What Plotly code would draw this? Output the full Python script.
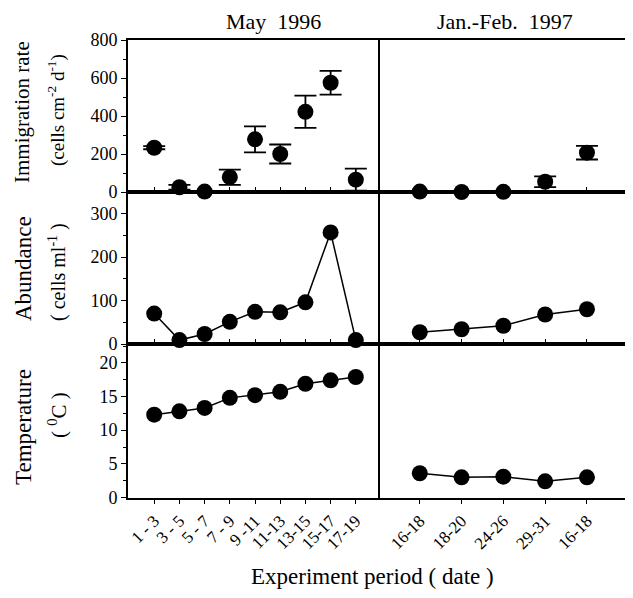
import plotly.graph_objects as go

# ---- data ----
may_labels = ["1 - 3", "3 - 5", "5 - 7", "7 - 9", "9 -11", "11-13", "13-15", "15-17", "17-19"]
jan_labels = ["16-18", "18-20", "24-26", "29-31", "16-18"]

may_immig = [233, 25, 2, 78, 277, 200, 422, 575, 65]
may_immig_err = [8, 12, 0, 40, 68, 50, 85, 62, 58]
jan_immig = [2, 0, 1, 54, 207]
jan_immig_err = [0, 0, 0, 28, 36]

may_abund = [70, 9, 23, 51, 74, 73, 96, 257, 9]
jan_abund = [27, 34, 42, 68, 80]

may_temp = [12.3, 12.8, 13.3, 14.8, 15.2, 15.7, 16.9, 17.4, 17.9]
jan_temp = [3.6, 3.0, 3.1, 2.4, 3.0]

# page has an 8px body margin; work in reference pixel coordinates and shift
OFF = 8
W, H = 633 - OFF, 598 - OFF
xl = (128, 378)
xr = (378, 630)
rows = [(40, 192), (192, 344), (344, 497.5)]


def px(x):
    return (x - OFF) / W


def py(y):
    return 1 - (y - OFF) / H


def xd(a):
    return [px(a[0]), px(a[1])]


def yd(r):
    return [py(r[1]), py(r[0])]


fig = go.Figure()
font = "Liberation Serif, Times New Roman, serif"
mk = dict(color="black", size=16)

may_x = list(range(1, len(may_labels) + 1))
jan_x = list(range(1, len(jan_labels) + 1))

# row 1: immigration
fig.add_trace(go.Scatter(x=may_x, y=may_immig, mode="markers", marker=mk, cliponaxis=False,
                         error_y=dict(type="data", array=may_immig_err, color="black", thickness=1.8, width=11),
                         xaxis="x", yaxis="y"))
fig.add_trace(go.Scatter(x=jan_x, y=jan_immig, mode="markers", marker=mk, cliponaxis=False,
                         error_y=dict(type="data", array=jan_immig_err, color="black", thickness=1.8, width=11),
                         xaxis="x2", yaxis="y2"))
# row 2: abundance
fig.add_trace(go.Scatter(x=may_x, y=may_abund, mode="lines+markers", marker=mk, cliponaxis=False,
                         line=dict(color="black", width=1.5), xaxis="x3", yaxis="y3"))
fig.add_trace(go.Scatter(x=jan_x, y=jan_abund, mode="lines+markers", marker=mk, cliponaxis=False,
                         line=dict(color="black", width=1.5), xaxis="x4", yaxis="y4"))
# row 3: temperature
fig.add_trace(go.Scatter(x=may_x, y=may_temp, mode="lines+markers", marker=mk, cliponaxis=False,
                         line=dict(color="black", width=1.5), xaxis="x5", yaxis="y5"))
fig.add_trace(go.Scatter(x=jan_x, y=jan_temp, mode="lines+markers", marker=mk, cliponaxis=False,
                         line=dict(color="black", width=1.5), xaxis="x6", yaxis="y6"))

yranges = [[0, 800], [0, 350], [0, 22.8]]
ydticks = [200, 100, 5]
yminor = [100, 50, 2.5]

axline = dict(showline=True, linecolor="black", linewidth=1.6, showgrid=False,
              zeroline=False, layer="below traces", automargin=False)

layout = {}
for r in range(3):
    for c in range(2):
        idx = r * 2 + c + 1
        xname = "xaxis" if idx == 1 else f"xaxis{idx}"
        yname = "yaxis" if idx == 1 else f"yaxis{idx}"
        last = r == 2
        if c == 0:
            xa = dict(domain=xd(xl), range=[-0.04, 9.88], tickvals=may_x, ticktext=may_labels)
        else:
            xa = dict(domain=xd(xr), range=[0, 6.03], tickvals=jan_x, ticktext=jan_labels)
        xa.update(axline)
        xa.update(mirror=True, anchor=f"y{'' if idx == 1 else idx}", ticks="outside" if last else "inside",
                  ticklen=5, tickwidth=1.2, tickcolor="black",
                  showticklabels=last, tickangle=-45,
                  tickfont=dict(family=font, size=17, color="black"))
        ya = dict(domain=yd(rows[r]), range=yranges[r], dtick=ydticks[r], tick0=0,
                  anchor=f"x{'' if idx == 1 else idx}")
        ya.update(axline)
        ya.update(ticks="outside", ticklen=5, tickwidth=1.2, tickcolor="black",
                  minor=dict(dtick=yminor[r], tick0=0, ticks="outside", ticklen=3, tickcolor="black", tickwidth=1),
                  tickfont=dict(family=font, size=18, color="black"))
        if c == 0:
            ya.update(showticklabels=True, side="left", mirror=True)
        else:
            ya.update(showticklabels=False, side="right", mirror=False, ticklen=3)
        layout[xname] = xa
        layout[yname] = ya

ann = []


def add_text(text, x, y, size, angle=0):
    ann.append(dict(text=text, x=px(x), y=py(y), xref="paper", yref="paper", showarrow=False,
                    textangle=angle, font=dict(family=font, size=size, color="black"),
                    xanchor="center", yanchor="middle"))


add_text("May  1996", 273, 22, 22)
add_text("Jan.-Feb.  1997", 505, 22, 22)
add_text("Immigration rate", 22, 112, 21, -90)
add_text("(cells cm<sup>-2</sup> d<sup>-1</sup>)", 57, 110, 19, -90)
add_text("Abundance", 23, 269, 23, -90)
add_text("( cells ml<sup>-1</sup> )", 57, 272, 20, -90)
add_text("Temperature", 23, 427, 23, -90)
add_text("( <sup>0</sup>C )", 57, 415, 21, -90)
add_text("Experiment period ( date )", 372, 576, 23)

fig.update_layout(width=W, height=H, margin=dict(l=0, r=0, t=0, b=0), showlegend=False,
                  paper_bgcolor="white", plot_bgcolor="white", annotations=ann, **layout)

fig.write_html("out.html")
